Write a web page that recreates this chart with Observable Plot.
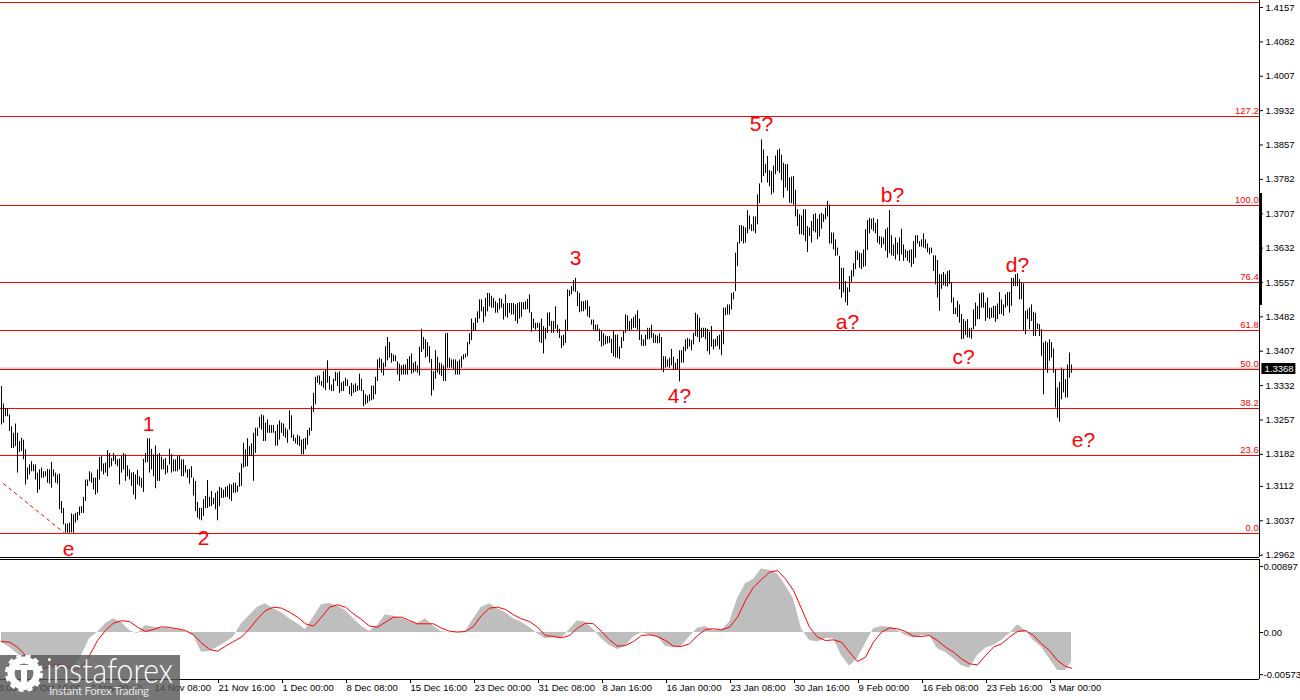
<!DOCTYPE html>
<html><head><meta charset="utf-8">
<script src="https://cdn.jsdelivr.net/npm/d3@7"></script>
<script src="https://cdn.jsdelivr.net/npm/@observablehq/plot@0.6"></script>
<style>
html,body{margin:0;padding:0;background:#fff;width:1300px;height:700px;overflow:hidden}
#wrap{position:relative;width:1300px;height:700px;overflow:hidden}
#topPane,#botPane{position:absolute;left:0}
#topPane{top:0}#botPane{top:558px}
#wm{position:absolute;left:0;top:655px;width:180px;height:45px}
svg{display:block}
</style></head><body>
<div id="wrap"><div id="topPane"></div><div id="botPane"></div>
<svg id="wm" width="180" height="45" viewBox="0 0 180 45">
<rect width="180" height="45" fill="#555" fill-opacity="0.8"/>
<circle cx="24" cy="18" r="13" fill="none" stroke="#fff" stroke-width="7"/>
<circle cx="24" cy="18" r="17" fill="none" stroke="#fff" stroke-width="4" stroke-dasharray="5 4"/>
<path d="M21 14h6v21h-6zM13 10h22v5H13z" fill="#fff"/>
<text x="46" y="28" font-family="Lato" font-weight="300" font-size="35" fill="#fff" textLength="127" lengthAdjust="spacingAndGlyphs">instaforex</text>
<text x="49" y="40" font-family="Lato" font-size="11.5" fill="#e4e4e4" textLength="100">Instant Forex Trading</text>
</svg></div>
<script>
// Bar highs and lows in 1/10000 of the price
const highs=[13330,13292,13282,13281,13268,13242,13228,13248,13228,13210,13217,13213,13192,13152,13159,13166,13159,13159,13141,13148,13152,13144,13144,13149,13148,13164,13148,13141,13137,13139,13079,13064,13030,13030,13032,13052,13050,13053,13055,13067,13068,13088,13126,13126,13144,13141,13130,13130,13148,13175,13177,13161,13163,13190,13184,13173,13184,13177,13170,13172,13177,13184,13181,13157,13148,13141,13142,13137,13147,13133,13129,13171,13184,13216,13216,13193,13181,13200,13181,13184,13176,13170,13173,13157,13193,13181,13170,13170,13177,13179,13170,13170,13157,13148,13149,13155,13130,13123,13077,13064,13064,13083,13090,13125,13088,13101,13086,13097,13101,13110,13108,13104,13110,13112,13117,13115,13119,13119,13113,13141,13161,13206,13192,13216,13199,13205,13228,13239,13239,13263,13268,13266,13250,13257,13245,13245,13245,13232,13246,13255,13250,13248,13239,13235,13277,13266,13224,13217,13224,13221,13213,13215,13217,13234,13239,13286,13315,13350,13353,13353,13341,13362,13365,13386,13352,13333,13346,13361,13359,13362,13338,13341,13348,13344,13330,
13337,13333,13336,13331,13357,13346,13321,13312,13309,13312,13331,13331,13350,13388,13392,13389,13381,13417,13437,13426,13402,13399,13397,13384,13379,13375,13377,13377,13389,13395,13401,13381,13384,13375,13416,13455,13437,13432,13426,13417,13389,13362,13408,13394,13381,13379,13375,13445,13446,13392,13388,13388,13388,13384,13388,13395,13399,13401,13426,13445,13477,13468,13479,13493,13519,13519,13503,13522,13533,13533,13527,13522,13515,13511,13522,13520,13510,13530,13511,13511,13511,13511,13508,13511,13513,13513,13513,13515,13520,13530,13491,13477,13468,13468,13468,13477,13461,13457,13490,13491,13472,13472,13504,13464,13455,13440,13442,13475,13541,13539,13548,13561,13566,13537,13533,13515,13515,13517,13517,13504,13475,13475,13464,13464,13455,13450,13445,13440,13439,13439,13433,13452,13442,13442,13416,13437,13450,13486,13484,13472,13477,13481,13486,13495,13477,13442,13432,13442,13457,13457,13464,13445,13442,13440,13445,13437,13395,13395,13388,13392,13411,13394,13381,13389,13408,13408,13416,13432,13435,13433,13430,13446,13490,13486,13479,13457,13457,13457,13455,13448,13461,13432,13433,13439,13442,13452,13501,13501,13508,13508,13533,13535,
13621,13644,13681,13681,13679,13676,13714,13702,13683,13700,13700,13748,13772,13868,13846,13814,13832,13801,13799,13811,13833,13845,13848,13835,13817,13814,13814,13785,13787,13788,13758,13716,13705,13702,13716,13716,13679,13676,13690,13705,13707,13695,13705,13708,13705,13719,13734,13726,13665,13665,13650,13632,13614,13588,13588,13559,13545,13570,13583,13598,13625,13625,13621,13620,13628,13672,13692,13697,13695,13697,13686,13694,13657,13656,13654,13672,13676,13714,13659,13639,13654,13643,13654,13673,13639,13628,13625,13627,13628,13646,13659,13659,13646,13650,13663,13650,13641,13632,13632,13615,13615,13605,13574,13574,13579,13574,13581,13583,13557,13523,13501,13516,13508,13487,13476,13472,13476,13457,13457,13497,13512,13505,13532,13534,13534,13512,13523,13501,13501,13505,13505,13510,13535,13519,13508,13530,13535,13535,13566,13566,13574,13576,13563,13557,13554,13494,13497,13501,13508,13492,13490,13467,13465,13454,13425,13428,13425,13432,13426,13412,13367,13327,13339,13370,13367,13345,13377,13403,13377];
const lows=[13246,13250,13264,13264,13232,13195,13195,13199,13141,13186,13188,13170,13115,13126,13137,13144,13144,13126,13097,13104,13130,13130,13133,13119,13117,13108,13133,13119,13117,13061,13053,13028,13010,13010,13010,13011,13010,13032,13037,13048,13053,13053,13079,13112,13123,13119,13104,13093,13097,13126,13144,13137,13141,13133,13152,13155,13166,13159,13155,13115,13141,13148,13123,13133,13126,13112,13093,13083,13115,13112,13108,13099,13163,13164,13141,13148,13133,13107,13123,13123,13148,13148,13137,13141,13159,13141,13144,13144,13144,13148,13133,13133,13141,13130,13117,13130,13091,13057,13043,13039,13037,13046,13064,13064,13067,13068,13072,13061,13037,13068,13086,13086,13088,13088,13083,13079,13097,13097,13099,13110,13112,13152,13154,13155,13177,13177,13123,13184,13221,13239,13235,13210,13210,13228,13228,13228,13228,13200,13200,13213,13228,13221,13217,13206,13235,13217,13210,13205,13202,13199,13181,13181,13192,13202,13222,13232,13273,13290,13337,13333,13330,13326,13321,13337,13322,13319,13319,13341,13330,13315,13319,13319,13330,13330,13312,
13308,13315,13317,13319,13321,13319,13286,13290,13293,13297,13299,13301,13312,13341,13370,13359,13353,13372,13386,13392,13381,13384,13384,13355,13341,13355,13355,13355,13355,13366,13357,13359,13362,13359,13353,13404,13410,13392,13395,13381,13309,13321,13346,13359,13355,13352,13341,13341,13370,13370,13370,13366,13355,13355,13355,13370,13388,13392,13395,13421,13430,13450,13452,13468,13477,13493,13469,13482,13493,13504,13501,13501,13490,13490,13497,13501,13475,13482,13479,13490,13486,13486,13472,13466,13477,13481,13497,13497,13498,13490,13448,13457,13453,13457,13426,13424,13401,13432,13446,13461,13446,13446,13455,13446,13435,13413,13418,13424,13450,13526,13530,13537,13535,13504,13491,13493,13493,13497,13482,13479,13464,13453,13450,13450,13428,13416,13418,13421,13423,13424,13402,13395,13392,13392,13389,13413,13428,13446,13453,13450,13453,13457,13457,13453,13430,13418,13417,13418,13432,13432,13435,13424,13424,13423,13424,13366,13360,13370,13372,13370,13375,13366,13365,13366,13340,13381,13381,13406,13411,13416,13408,13421,13439,13437,13426,13435,13437,13432,13406,13399,13416,13410,13416,13418,13410,13397,13421,13484,13486,13486,13497,13519,
13537,13592,13641,13646,13641,13643,13663,13672,13668,13668,13663,13683,13729,13774,13788,13795,13774,13766,13748,13752,13792,13799,13795,13779,13741,13763,13756,13730,13729,13726,13700,13679,13661,13661,13659,13646,13622,13657,13643,13668,13665,13650,13656,13673,13688,13694,13700,13641,13641,13628,13614,13615,13541,13523,13534,13513,13506,13535,13557,13569,13585,13605,13588,13585,13590,13592,13627,13663,13672,13668,13663,13643,13639,13632,13639,13625,13610,13620,13615,13614,13606,13617,13603,13617,13603,13610,13603,13599,13590,13596,13610,13641,13634,13634,13632,13630,13622,13617,13620,13581,13552,13523,13494,13542,13550,13548,13547,13552,13512,13487,13487,13481,13468,13432,13433,13441,13436,13436,13433,13454,13461,13476,13476,13501,13501,13472,13479,13476,13479,13479,13470,13476,13487,13487,13483,13501,13505,13490,13505,13548,13548,13548,13519,13519,13450,13443,13476,13454,13472,13439,13439,13454,13439,13396,13312,13367,13359,13385,13392,13359,13283,13261,13252,13301,13316,13305,13305,13348,13359];
// Oscillator pane, in 1/100000, read at every fourth bar and at the last bar
const histE5=[-140,-199,-290,-403,-494,-516,-471,-471,-516,-494,-313,-86,0,118,186,140,27,-18,95,72,59,50,41,14,-41,-267,-258,-199,-140,-63,118,231,344,390,322,267,186,118,41,208,376,399,358,299,186,86,18,95,240,222,186,149,118,186,86,14,-5,5,14,186,344,390,322,267,186,140,72,-18,-86,
-72,-86,41,158,140,41,-86,-177,-231,-186,-63,-5,-32,-63,-186,-208,-186,-63,59,81,27,27,140,458,662,720,865,842,797,639,458,50,-109,-131,-86,-86,-313,-458,-358,-154,50,81,72,27,-41,-77,-41,-41,-222,-267,-358,-449,-485,-313,-213,-177,-109,-18,104,27,-109,-199,-358,-516,-516,-403];
const signalE5=[-122,-131,-199,-313,-440,-503,-471,-426,-449,-516,-471,-313,-109,27,127,159,149,72,14,41,77,68,50,27,-32,-140,-231,-254,-186,-122,-63,50,186,299,344,331,277,208,118,86,208,344,376,344,254,177,86,72,140,208,208,163,118,118,118,59,18,5,14,82,231,331,344,313,240,186,149,72,-41,
-54,-72,-41,59,127,118,14,-100,-186,-177,-122,-41,-32,-54,-109,-186,-190,-154,-41,41,50,36,72,208,435,616,720,820,842,729,571,322,72,-63,-109,-100,-131,-267,-394,-335,-131,5,63,50,14,-50,-54,-41,-109,-199,-267,-358,-426,-440,-313,-199,-154,-63,14,27,-41,-154,-245,-381,-462,-485];
const priceTicks=[1.4157,1.4082,1.4007,1.3932,1.3857,1.3782,1.3707,1.3632,1.3557,1.3482,1.3407,1.3332,1.3257,1.3182,1.3112,1.3037,1.2962];
const timeTickBars=[-19,13,45,77,109,141,173,205,237,269,301,333,365,397,429,461,493,525];
const timeTickLabels=["23 Oct 08:00","30 Oct 16:00","7 Nov 00:00","14 Nov 08:00","21 Nov 16:00","1 Dec 00:00","8 Dec 08:00","15 Dec 16:00","23 Dec 00:00","31 Dec 08:00","8 Jan 16:00","16 Jan 00:00","23 Jan 08:00","30 Jan 16:00","9 Feb 00:00","16 Feb 08:00","23 Feb 16:00","3 Mar 00:00"];
const fibLevels=[1.41679,1.39192,1.3725,1.3557,1.34522,1.33671,1.3282,1.31795,1.30093];
const fibLabels=["","127.2","100.0","76.4","61.8","50.0","38.2","23.6","0.0"];
const waveNames=["e","1","2","3","4?","5?","a?","b?","c?","d?","e?"];
const waveBars=[33.5,73.5,101,287,339,380,423,445.5,481,508,541];
const wavePrices=[1.2974,1.3247,1.2998,1.3609,1.3308,1.3902,1.347,1.3747,1.3393,1.3594,1.3212];
const trendBars=[1,31], trendPrices=[1.3118,1.3012];
const lastPrice=1.3368;

const FONT='"Liberation Sans",Arial,sans-serif';
const bars=highs.map((h,i)=>({i,h:h/1e4,l:lows[i]/1e4}));
const macd=histE5.map((v,k)=>({i:k===histE5.length-1?535:k*4,h:v/1e5,s:signalE5[k]/1e5}));
const fib=fibLevels.map((p,k)=>({p,t:fibLabels[k]}));
const waves=waveNames.map((t,k)=>({t,i:waveBars[k],p:wavePrices[k]}));
const xDomain=[-0.5,629];
const pricePane=Plot.plot({
  width:1300,height:558,marginLeft:0,marginRight:41,marginTop:0,marginBottom:1,
  style:{fontFamily:FONT,background:"transparent",overflow:"visible"},
  x:{domain:xDomain,axis:null},
  y:{domain:[1.29569,1.41723],axis:null},
  marks:[
    Plot.ruleY([lastPrice],{stroke:"#bdbdbd",dy:-1}),
    Plot.ruleY(fib,{y:"p",stroke:"#ff0000"}),
    Plot.ruleX(bars,{x:"i",y1:"l",y2:"h",stroke:"#000",strokeWidth:1}),
    Plot.line(trendBars.map((i,k)=>({i,p:trendPrices[k]})),{x:"i",y:"p",stroke:"#ff0000",strokeWidth:1,strokeDasharray:"3,4"}),
    Plot.text(fib.filter(d=>d.t),{x:628.6,y:"p",text:"t",textAnchor:"end",dy:-6,fill:"#ff0000",fontSize:9.5}),
    Plot.text(waves,{x:"i",y:"p",text:"t",fill:"#ff0000",fontSize:21}),
    Plot.ruleY([1.29569],{stroke:"#000"}),
    Plot.ruleX([629],{stroke:"#000"}),
    Plot.ruleX([629.5],{y1:1.35067,y2:1.37512,stroke:"#000",strokeWidth:3}),
    Plot.axisY({anchor:"right",ticks:priceTicks,tickFormat:d3.format(".4f"),tickSize:3,tickPadding:3,label:null,fontSize:9.5,color:"#000"}),
    Plot.rect([{x1:630.2,x2:647.2,y1:1.33562,y2:1.33802}],{x1:"x1",x2:"x2",y1:"y1",y2:"y2",fill:"#000"}),
    Plot.text([lastPrice],{x:638.8,y:d=>d,text:d=>d.toFixed(4),fill:"#fff",fontSize:9.5})
  ]
});
document.getElementById("topPane").appendChild(pricePane);
const labelOf=new Map(timeTickBars.map((b,k)=>[b,timeTickLabels[k]]));
const macdPane=Plot.plot({
  width:1300,height:142,marginLeft:0,marginRight:41,marginTop:1,marginBottom:21,
  style:{fontFamily:FONT,background:"transparent",overflow:"visible"},
  x:{domain:xDomain,axis:null},
  y:{domain:[-0.00639,0.00992],axis:null},
  marks:[
    Plot.areaY(macd,{x:"i",y1:0,y2:"h",fill:"#bebebe"}),
    Plot.line(macd,{x:"i",y:"s",stroke:"#ff0000",strokeWidth:1}),
    Plot.ruleY([0.00992],{stroke:"#000"}),
    Plot.ruleY([-0.00639],{stroke:"#000"}),
    Plot.ruleX([629],{stroke:"#000"}),
    Plot.axisY({anchor:"right",ticks:[0.00897,0,-0.00573],tickFormat:d=>d===0?"0.00":d.toFixed(5),tickSize:3,tickPadding:1,label:null,fontSize:9.5,color:"#000"}),
    Plot.axisX({anchor:"bottom",ticks:timeTickBars,tickFormat:d=>labelOf.get(d),tickSize:4,tickPadding:1,label:null,textAnchor:"start",dx:-1,fontSize:9.5,color:"#000"})
  ]
});
document.getElementById("botPane").appendChild(macdPane);
</script></body></html>
